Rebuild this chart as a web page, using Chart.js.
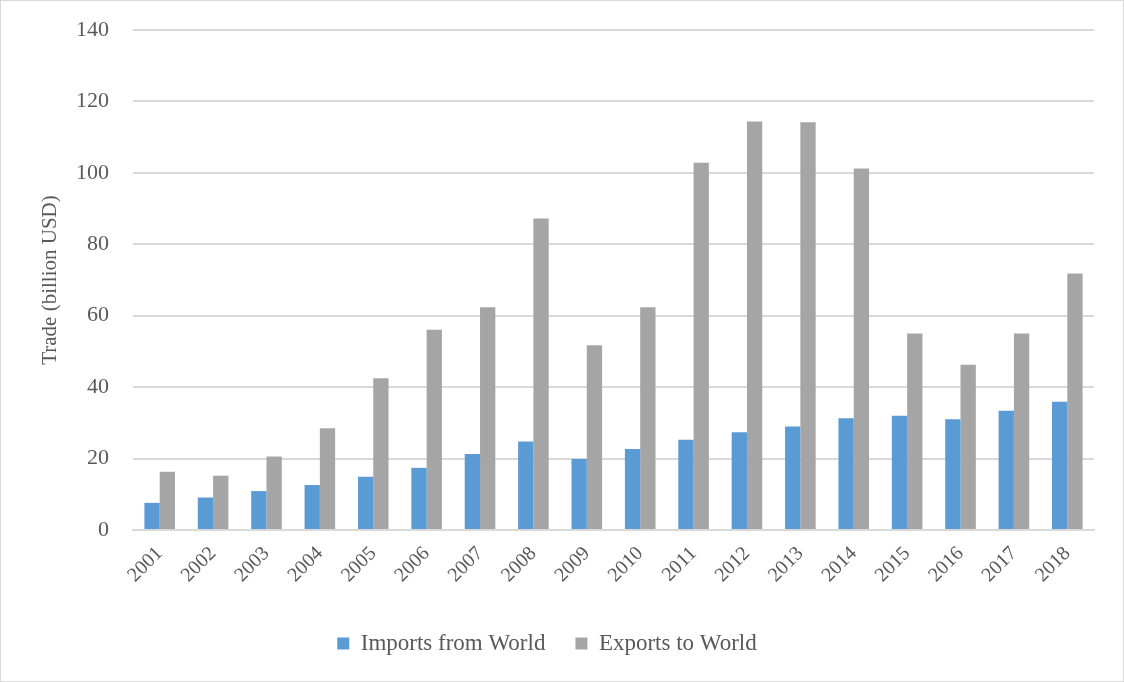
<!DOCTYPE html>
<html>
<head>
<meta charset="utf-8">
<script src="https://cdn.jsdelivr.net/npm/chart.js@4/dist/chart.umd.min.js"></script>
<style>
  html, body { margin: 0; padding: 0; background: #ffffff; }
  #wrap { width: 1124px; height: 682px; position: relative; }
</style>
</head>
<body>
<div id="wrap"><canvas id="chart" width="1124" height="682"></canvas></div>
<script>
// Annual trade, billion USD
const years = ['2001','2002','2003','2004','2005','2006','2007','2008','2009',
               '2010','2011','2012','2013','2014','2015','2016','2017','2018'];
const importsFromWorld = [7.6, 9.1, 10.9, 12.6, 14.9, 17.4, 21.3, 24.8, 19.9,
                          22.7, 25.3, 27.4, 29.0, 31.3, 32.0, 31.0, 33.4, 35.9];
const exportsToWorld   = [16.3, 15.2, 20.6, 28.5, 42.5, 56.1, 62.4, 87.2, 51.7,
                          62.4, 102.8, 114.4, 114.2, 101.2, 55.0, 46.3, 55.0, 71.8];
const yTicks = [0, 20, 40, 60, 80, 100, 120, 140];

const FONT = "'Liberation Serif', 'DejaVu Serif', serif";
const TEXT = '#595959';
const GRID = '#d9d9d9';

// Thin frame around the whole figure
const frame = {
  id: 'frame',
  afterDraw(chart) {
    const c = chart.ctx;
    c.save();
    c.strokeStyle = '#d9d9d9';
    c.lineWidth = 1;
    c.strokeRect(0.5, 0.5, chart.width - 1, chart.height - 1);
    c.restore();
  }
};

new Chart(document.getElementById('chart'), {
  type: 'bar',
  data: {
    labels: years,
    datasets: [
      { label: 'Imports from World', data: importsFromWorld, backgroundColor: '#5b9bd5' },
      { label: 'Exports to World', data: exportsToWorld, backgroundColor: '#a5a5a5' }
    ]
  },
  options: {
    responsive: false,
    animation: false,
    devicePixelRatio: 1,
    layout: { padding: { top: 30, right: 30, bottom: 17, left: 0 } },
    datasets: { bar: { barPercentage: 1.0, categoryPercentage: 0.573 } },
    plugins: {
      legend: {
        position: 'bottom',
        labels: {
          font: { family: FONT, size: 23 },
          color: TEXT,
          boxWidth: 12,
          boxHeight: 12,
          padding: 30
        }
      },
      tooltip: { enabled: false }
    },
    scales: {
      x: {
        grid: { display: false, drawTicks: false },
        border: { display: true, color: GRID, width: 2 },
        ticks: {
          font: { family: FONT, size: 20 },
          color: TEXT,
          minRotation: 45,
          maxRotation: 45,
          padding: 12
        },
        afterFit(scale) { scale.height = 72; }
      },
      y: {
        min: 0,
        max: 140,
        afterBuildTicks(scale) { scale.ticks = yTicks.map(v => ({ value: v })); },
        grid: {
          color: GRID,
          lineWidth: 2,
          drawTicks: true,
          tickLength: 20,
          tickColor: 'rgba(0,0,0,0)'
        },
        border: { display: false },
        ticks: {
          font: { family: FONT, size: 22 },
          color: TEXT,
          padding: 4
        },
        title: {
          display: true,
          text: 'Trade (billion USD)',
          font: { family: FONT, size: 21 },
          color: TEXT,
          padding: { top: 38, bottom: 0 }
        },
        afterFit(scale) { scale.width = 133; }
      }
    }
  },
  plugins: [frame]
});
</script>
</body>
</html>
